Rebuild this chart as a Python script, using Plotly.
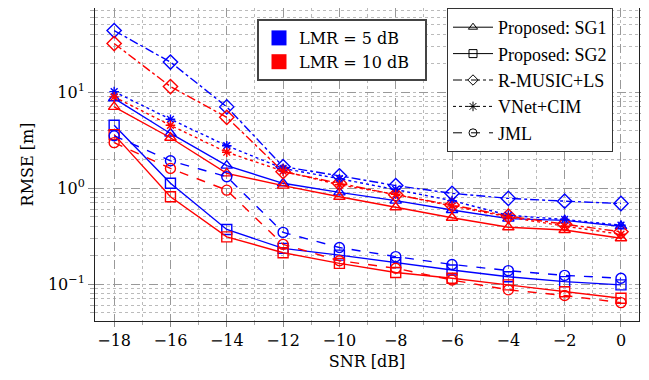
import plotly.graph_objects as go

snr = [-18, -16, -14, -12, -10, -8, -6, -4, -2, 0]

# LMR = 5 dB (blue)
sg1_5 = [8.6, 3.7, 1.71, 1.12, 0.90, 0.74, 0.59, 0.48, 0.46, 0.40]
sg2_5 = [4.5, 1.12, 0.37, 0.235, 0.20, 0.167, 0.14, 0.119, 0.106, 0.098]
rmusic_5 = [43.6, 20.5, 7.0, 1.67, 1.34, 1.06, 0.88, 0.78, 0.73, 0.69]
vnet_5 = [10.1, 5.2, 2.76, 1.60, 1.25, 0.97, 0.74, 0.52, 0.47, 0.41]
jml_5 = [3.5, 1.92, 1.31, 0.345, 0.24, 0.193, 0.16, 0.138, 0.123, 0.115]

# LMR = 10 dB (red)
sg1_10 = [7.0, 3.34, 1.42, 1.06, 0.81, 0.63, 0.49, 0.39, 0.365, 0.30]
sg2_10 = [3.6, 0.81, 0.31, 0.212, 0.164, 0.132, 0.115, 0.098, 0.083, 0.071]
rmusic_10 = [32.0, 11.4, 5.45, 1.48, 1.12, 0.85, 0.665, 0.51, 0.42, 0.35]
vnet_10 = [8.9, 4.5, 2.36, 1.50, 1.08, 0.86, 0.65, 0.50, 0.40, 0.33]
jml_10 = [2.97, 1.60, 0.95, 0.259, 0.175, 0.146, 0.11, 0.087, 0.076, 0.064]

x_ticks = [-18, -16, -14, -12, -10, -8, -6, -4, -2, 0]
x_ticktext = ["−18", "−16", "−14", "−12", "−10", "−8", "−6", "−4", "−2", "0"]
y_ticks = [0.1, 1, 10]
y_ticktext = ["10<sup>−1</sup>", "10<sup>0</sup>", "10<sup>1</sup>"]

lmr_labels = ["LMR = 5 dB", "LMR = 10 dB"]

methods = [
    ("Proposed: SG1", "solid", "triangle-up-open", 10, sg1_5, sg1_10),
    ("Proposed: SG2", "solid", "square-open", 10, sg2_5, sg2_10),
    ("R-MUSIC+LS", "dashdot", "diamond-open", 11, rmusic_5, rmusic_10),
    ("VNet+CIM", "dot", "asterisk-open", 8, vnet_5, vnet_10),
    ("JML", "dash", "circle-open", 10, jml_5, jml_10),
]

BLUE = "rgb(0,0,255)"
RED = "rgb(255,0,0)"
SERIF = "DejaVu Serif"
TIMES = "Liberation Serif"

fig = go.Figure()
for name, dash, sym, msize, v5, v10 in methods:
    for vals, col in ((v5, BLUE), (v10, RED)):
        fig.add_trace(go.Scatter(
            x=snr, y=vals, mode="lines+markers",
            line=dict(color=col, width=1.4, dash=dash),
            marker=dict(symbol=sym, size=msize, color=col,
                        line=dict(color=col, width=1.4)),
            showlegend=False, hoverinfo="skip"))

for name, dash, sym, msize, v5, v10 in methods:
    fig.add_trace(go.Scatter(
        x=[None], y=[None], mode="lines+markers", name=name,
        line=dict(color="black", width=1, dash=dash),
        marker=dict(symbol=sym, size=8, color="black",
                    line=dict(color="black", width=1)),
        legend="legend"))

for name, col in zip(lmr_labels, (BLUE, RED)):
    fig.add_trace(go.Scatter(
        x=[None], y=[None], mode="markers", name=name + "\u00a0\u00a0",
        marker=dict(symbol="square", size=15, color=col),
        legend="legend2"))

# page has an 8px body margin; compensate
OFF = 8
W, H = 649 - OFF, 380 - OFF
L, T = 95 - OFF, 0
R = 10
B = H - (321 - OFF)
pw, ph = W - L - R, H - T - B

def px_x(p):
    return (p - OFF - L) / pw

def px_y(p):
    return (H - B - (p - OFF)) / ph

fig.update_layout(
    width=W, height=H,
    margin=dict(l=L, r=R, t=T, b=B, autoexpand=False),
    paper_bgcolor="white", plot_bgcolor="white",
    font=dict(family=TIMES, size=16, color="black"),
    legend=dict(x=px_x(447), y=1.0, xanchor="left", yanchor="top",
                bgcolor="white", bordercolor="#333", borderwidth=1,
                font=dict(family=TIMES, size=18), tracegroupgap=0,
                itemwidth=40),
    legend2=dict(x=px_x(257), y=px_y(19), xanchor="left", yanchor="top",
                 bgcolor="white", bordercolor="#444", borderwidth=2,
                 font=dict(family=SERIF, size=16), itemsizing="trace"),
)

fig.update_xaxes(
    range=[-18.68, 0.64], tickvals=x_ticks, ticktext=x_ticktext,
    showline=True, linecolor="#222", linewidth=1, mirror="allticks",
    ticks="outside", ticklen=5, tickcolor="#888", tickwidth=1,
    showgrid=True, gridcolor="#999", griddash="dash", gridwidth=1,
    zeroline=False,
    minor=dict(dtick=1, tick0=0, showgrid=True, gridcolor="#bbb",
               griddash="dot", ticks="outside", ticklen=3, tickcolor="#aaa"),
    title=dict(text="SNR [dB]", font=dict(family=SERIF, size=16), standoff=6),
    tickfont=dict(family=SERIF, size=16),
)
fig.update_yaxes(
    type="log", range=[-1.385, 1.875], tickvals=y_ticks, ticktext=y_ticktext,
    showline=True, linecolor="#222", linewidth=1, mirror="allticks",
    ticks="outside", ticklen=6, tickcolor="#888", tickwidth=1,
    showgrid=True, gridcolor="#999", griddash="dash", gridwidth=1,
    zeroline=False,
    minor=dict(dtick="D1", showgrid=True, gridcolor="#bbb",
               griddash="dot", ticks="outside", ticklen=4, tickcolor="#aaa"),
    title=dict(text="RMSE [m]", font=dict(family=SERIF, size=16), standoff=10),
    tickfont=dict(family=SERIF, size=16),
)

fig.write_html("out.html")
